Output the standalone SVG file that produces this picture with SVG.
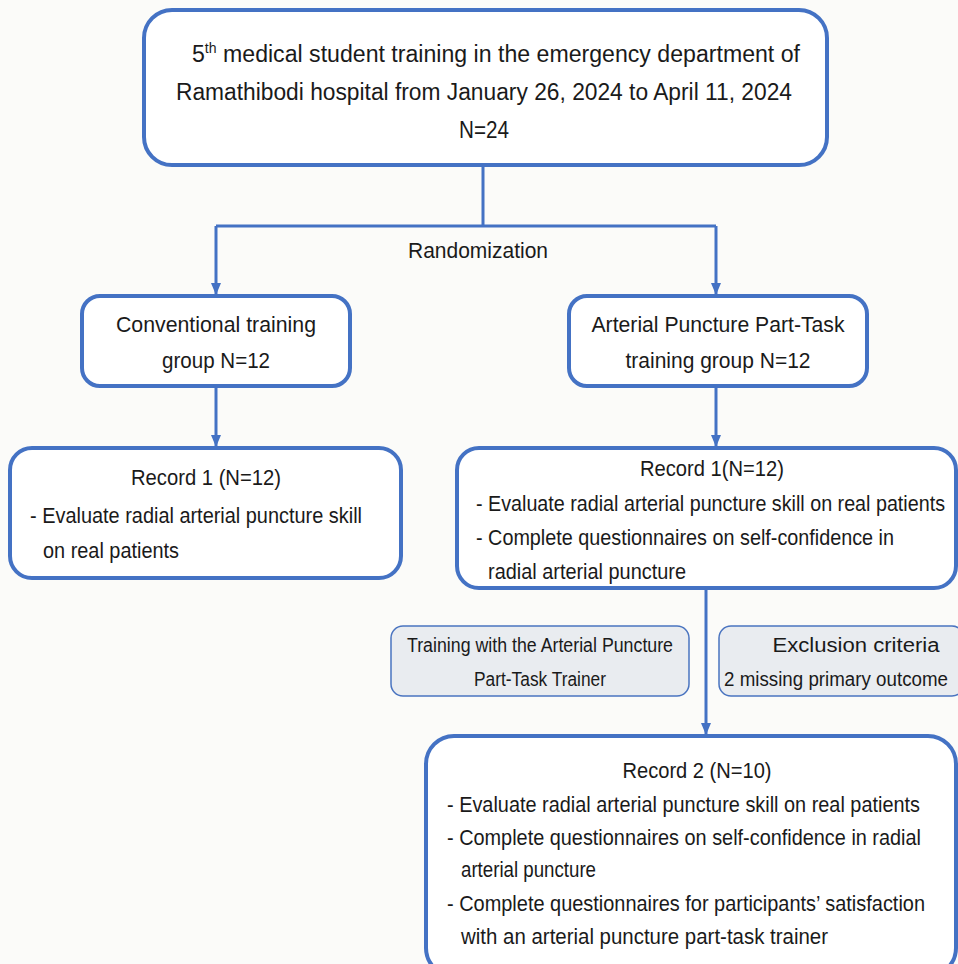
<svg xmlns="http://www.w3.org/2000/svg" width="958" height="964" viewBox="0 0 958 964">
<style>
.box{fill:#ffffff;stroke:#4472c4;stroke-width:4}
.gbox{fill:#e9ecf0;stroke:#4a74c0;stroke-width:1.5}
.t{font-family:"Liberation Sans",Arial,sans-serif;font-size:22px;fill:#1a1a1a}
.big{font-size:23px}
.s{font-family:"Liberation Sans",Arial,sans-serif;font-size:19.5px;fill:#1a1a1a}
.c{text-anchor:middle}
.con{fill:none;stroke:#4472c4;stroke-width:3}
</style>
<defs>
<marker id="ah" viewBox="0 0 12 10" refX="12" refY="5" markerWidth="12" markerHeight="10" markerUnits="userSpaceOnUse" orient="auto">
<path d="M0,0 L12,5 L0,10 Z" fill="#4472c4"/>
</marker>
</defs>
<rect width="958" height="964" fill="#fbfbf9"/>
<g id="connectors">
<path class="con" d="M483 166 V226 M216 226 H716"/>
<path class="con" d="M216 226 V295" marker-end="url(#ah)"/>
<path class="con" d="M716 226 V295" marker-end="url(#ah)"/>
<path class="con" d="M216 386 V447" marker-end="url(#ah)"/>
<path class="con" d="M716 386 V447" marker-end="url(#ah)"/>
<path class="con" d="M706 588 V735" marker-end="url(#ah)"/>
<text class="t c" x="478" y="258" textLength="140" lengthAdjust="spacingAndGlyphs">Randomization</text>
</g>
<g id="top">
<rect class="box" x="144" y="10" width="683" height="155" rx="28"/>
<text class="t big" x="192" y="62" textLength="608" lengthAdjust="spacingAndGlyphs">5<tspan dy="-9" font-size="14">th</tspan><tspan dy="9"> medical student training in the emergency department of</tspan></text>
<text class="t big" x="176" y="100" textLength="616" lengthAdjust="spacingAndGlyphs">Ramathibodi hospital from January 26, 2024 to April 11, 2024</text>
<text class="t big c" x="484" y="138" textLength="50" lengthAdjust="spacingAndGlyphs">N=24</text>
</g>
<g id="conventional">
<rect class="box" x="82" y="296" width="268" height="90" rx="18"/>
<text class="t c" x="216" y="332" textLength="200" lengthAdjust="spacingAndGlyphs">Conventional training</text>
<text class="t c" x="216" y="368" textLength="108" lengthAdjust="spacingAndGlyphs">group N=12</text>
</g>
<g id="arterial">
<rect class="box" x="569" y="296" width="298" height="90" rx="18"/>
<text class="t c" x="718" y="332" textLength="253" lengthAdjust="spacingAndGlyphs">Arterial Puncture Part-Task</text>
<text class="t c" x="718" y="368" textLength="185" lengthAdjust="spacingAndGlyphs">training group N=12</text>
</g>
<g id="record1-left">
<rect class="box" x="10" y="448" width="391" height="130" rx="22"/>
<text class="t c" x="206" y="485" textLength="150" lengthAdjust="spacingAndGlyphs">Record 1 (N=12)</text>
<text class="t" x="30" y="523" textLength="332" lengthAdjust="spacingAndGlyphs">- Evaluate radial arterial puncture skill</text>
<text class="t" x="43" y="558" textLength="136" lengthAdjust="spacingAndGlyphs">on real patients</text>
</g>
<g id="record1-right">
<rect class="box" x="457" y="448" width="499" height="140" rx="22"/>
<text class="t c" x="712" y="476" textLength="144" lengthAdjust="spacingAndGlyphs">Record 1(N=12)</text>
<text class="t" x="476" y="511" textLength="469" lengthAdjust="spacingAndGlyphs">- Evaluate radial arterial puncture skill on real patients</text>
<text class="t" x="476" y="545" textLength="418" lengthAdjust="spacingAndGlyphs">- Complete questionnaires on self-confidence in</text>
<text class="t" x="488" y="579" textLength="198" lengthAdjust="spacingAndGlyphs">radial arterial puncture</text>
</g>
<g id="training">
<rect class="gbox" x="391" y="626" width="298" height="70" rx="12"/>
<text class="s c" x="540" y="652" textLength="266" lengthAdjust="spacingAndGlyphs">Training with the Arterial Puncture</text>
<text class="s c" x="540" y="686" textLength="132" lengthAdjust="spacingAndGlyphs">Part-Task Trainer</text>
</g>
<g id="exclusion">
<rect class="gbox" x="719" y="626" width="245" height="70" rx="12"/>
<text class="s c" x="856" y="652" textLength="167" lengthAdjust="spacingAndGlyphs">Exclusion criteria</text>
<text class="s c" x="836" y="686" textLength="224" lengthAdjust="spacingAndGlyphs">2 missing primary outcome</text>
</g>
<g id="record2">
<rect class="box" x="426" y="736" width="530" height="240" rx="28"/>
<text class="t c" x="697" y="778" textLength="149" lengthAdjust="spacingAndGlyphs">Record 2 (N=10)</text>
<text class="t" x="447" y="812" textLength="473" lengthAdjust="spacingAndGlyphs">- Evaluate radial arterial puncture skill on real patients</text>
<text class="t" x="447" y="845" textLength="474" lengthAdjust="spacingAndGlyphs">- Complete questionnaires on self-confidence in radial</text>
<text class="t" x="461" y="877" textLength="135" lengthAdjust="spacingAndGlyphs">arterial puncture</text>
<text class="t" x="447" y="911" textLength="478" lengthAdjust="spacingAndGlyphs">- Complete questionnaires for participants’ satisfaction</text>
<text class="t" x="461" y="944" textLength="367" lengthAdjust="spacingAndGlyphs">with an arterial puncture part-task trainer</text>
</g>
</svg>
